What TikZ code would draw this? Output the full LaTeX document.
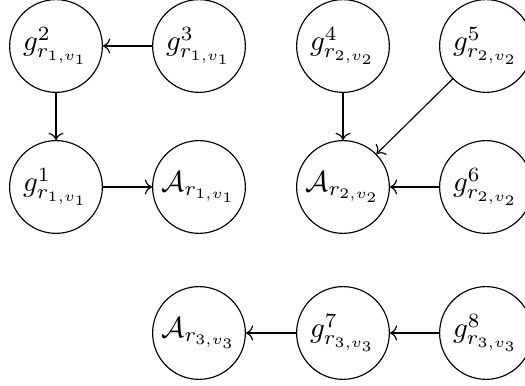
\documentclass[tikz,border=0pt]{standalone}
\usetikzlibrary{arrows.meta}
\begin{document}
\begin{tikzpicture}[x=0.345pt,y=-0.345pt,
  gnode/.style={circle,draw,line width=0.4pt,minimum size=32pt,inner sep=0pt},
  link/.style={->,line width=0.4pt}]
\useasboundingbox (0,0) rectangle (525,386);
\node[gnode] (g2) at (56,46) {$g^{2}_{r_{1,v_1}}$};
\node[gnode] (g3) at (199,46) {$g^{3}_{r_{1,v_1}}$};
\node[gnode] (g4) at (343,46) {$g^{4}_{r_{2,v_2}}$};
\node[gnode] (g5) at (486,46) {$g^{5}_{r_{2,v_2}}$};
\node[gnode] (g1) at (56,187) {$g^{1}_{r_{1,v_1}}$};
\node[gnode] (A1) at (199,187) {$\mathcal{A}_{r_{1,v_1}}$};
\node[gnode] (A2) at (343,187) {$\mathcal{A}_{r_{2,v_2}}$};
\node[gnode] (g6) at (486,187) {$g^{6}_{r_{2,v_2}}$};
\node[gnode] (A3) at (199,333) {$\mathcal{A}_{r_{3,v_3}}$};
\node[gnode] (g7) at (343,333) {$g^{7}_{r_{3,v_3}}$};
\node[gnode] (g8) at (486,333) {$g^{8}_{r_{3,v_3}}$};
\draw[link] (g3) -- (g2);
\draw[link] (g2) -- (g1);
\draw[link] (g1) -- (A1);
\draw[link] (g4) -- (A2);
\draw[link] (g5) -- (A2);
\draw[link] (g6) -- (A2);
\draw[link] (g7) -- (A3);
\draw[link] (g8) -- (g7);
\end{tikzpicture}
\end{document}
